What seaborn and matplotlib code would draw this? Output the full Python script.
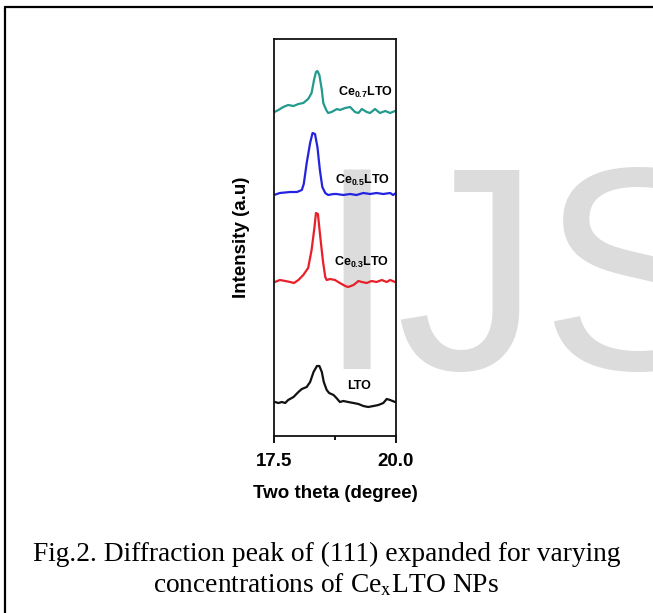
import matplotlib
matplotlib.use("Agg")
import matplotlib.pyplot as plt
from matplotlib.lines import Line2D
import seaborn as sns
import pandas as pd

# ---------------- data ----------------
theta_ce07 = [17.51, 17.59, 17.69, 17.79, 17.90, 18.00, 18.10, 18.20, 18.27, 18.32, 18.36, 18.39,
              18.43, 18.48, 18.51, 18.57, 18.61, 18.68, 18.79, 18.85, 18.96, 19.06, 19.16, 19.23,
              19.30, 19.40, 19.47, 19.57, 19.67, 19.78, 19.88, 19.98]
int_ce07 = [0, 2, 5, 7, 6, 8, 9, 13, 19, 32, 40, 41, 37, 22, 9, 2, -1, 0, 3, 2, 4, 5, 0, -1,
            3, 0, -1, 3, -1, 1, -1, 1]

theta_ce05 = [17.50, 17.62, 17.83, 17.97, 18.07, 18.11, 18.17, 18.24, 18.29, 18.34, 18.39, 18.44,
              18.49, 18.55, 18.61, 18.72, 18.78, 18.92, 19.06, 19.19, 19.33, 19.47, 19.60, 19.74,
              19.88, 19.94, 20.00]
int_ce05 = [-1, 1, 2, 2, 4, 10, 31, 51, 61, 60, 47, 24, 7, 1, -1, 0, 0, -1, 0, -1, 1, 0, 1, 0,
            1, -1, 1]

theta_ce03 = [17.52, 17.62, 17.73, 17.83, 17.91, 18.00, 18.10, 18.20, 18.27, 18.33, 18.36, 18.40,
              18.44, 18.50, 18.55, 18.58, 18.65, 18.75, 18.85, 18.96, 19.02, 19.13, 19.23, 19.30,
              19.40, 19.50, 19.60, 19.71, 19.81, 19.88, 19.98]
int_ce03 = [-1, 1, 0, -1, -2, 1, 6, 13, 31, 54, 68, 67, 48, 21, 4, 1, 2, 1, -2, -5, -6, -4, 0, -1,
            -2, 0, -1, 1, -1, 1, -1]

theta_lto = [17.52, 17.59, 17.66, 17.73, 17.79, 17.90, 18.00, 18.07, 18.17, 18.24, 18.31, 18.38,
             18.43, 18.48, 18.52, 18.58, 18.63, 18.72, 18.78, 18.85, 18.92, 19.02, 19.13, 19.23,
             19.33, 19.43, 19.54, 19.64, 19.74, 19.81, 19.88, 19.98]
int_lto = [0, -1, 0, -1, 2, 5, 10, 13, 15, 20, 30, 36, 36, 30, 20, 12, 9, 7, 4, 0, 1, 0, -1, -2,
           -4, -5, -4, -3, -1, 3, 2, 0]

series_names = ["LTO", "Ce0.3LTO", "Ce0.5LTO", "Ce0.7LTO"]
series_theta = [theta_lto, theta_ce03, theta_ce05, theta_ce07]
series_int = [int_lto, int_ce03, int_ce05, int_ce07]
series_offset = [34, 155, 242, 324]          # vertical stacking offsets (a.u.)
series_colors = ["#111111", "#e8202a", "#2323e0", "#239a8e"]
series_labels = ["LTO", r"Ce$_{\mathbf{0.3}}$LTO", r"Ce$_{\mathbf{0.5}}$LTO", r"Ce$_{\mathbf{0.7}}$LTO"]
label_pos = [(18.99, 50), (18.72, 174), (18.76, 256), (18.82, 344)]

xticks = [17.5, 20.0]
xtick_labels = ["17.5", "20.0"]
xlabel = "Two theta (degree)"
ylabel = "Intensity (a.u)"
caption1 = "Fig.2. Diffraction peak of (111) expanded for varying"
caption2 = r"concentrations of Ce$_\mathrm{x}$LTO NPs"

# ---------------- build table ----------------
rows = []
for name, th, it, off in zip(series_names, series_theta, series_int, series_offset):
    for t, v in zip(th, it):
        rows.append({"theta": t, "intensity": v + off, "sample": name})
df = pd.DataFrame(rows)

# ---------------- style ----------------
sns.set_style("ticks")
plt.rcParams["font.family"] = ["Liberation Sans", "DejaVu Sans"]
plt.rcParams["mathtext.fontset"] = "custom"
plt.rcParams["mathtext.bf"] = "Liberation Sans:bold"
plt.rcParams["mathtext.rm"] = "Liberation Sans:bold"
plt.rcParams["text.color"] = "black"
plt.rcParams["axes.labelcolor"] = "black"
plt.rcParams["xtick.color"] = "black"
plt.rcParams["xtick.labelcolor"] = "black"

W, H = 653, 613
fig = plt.figure(figsize=(W / 100, H / 100), dpi=100)
fig.patch.set_facecolor("white")

ax = fig.add_axes([274 / W, 1 - 436 / H, 122 / W, 397 / H])
ax.set_facecolor("none")

# watermark behind the axes
fig.text(316 / W, 1 - 369 / H, "IJS", fontsize=208, color="#dcdcdc",
         family="Liberation Sans", ha="left", va="baseline", zorder=-5)

sns.lineplot(data=df, x="theta", y="intensity", hue="sample", hue_order=series_names,
             palette=series_colors, sort=False, estimator=None, legend=False,
             linewidth=1.6, ax=ax)

for lab, (lx, ly) in zip(series_labels, label_pos):
    ax.text(lx, ly, lab, fontsize=9, fontweight="bold", ha="left", va="center", color="black")

ax.set_xlim(17.5, 20.0)
ax.set_ylim(0, 397)
ax.set_xticks(xticks)
ax.set_xticklabels(xtick_labels, fontsize=13.5, fontweight="bold")
ax.set_xticks([18.75], minor=True)
ax.set_yticks([])
ax.tick_params(axis="x", which="major", direction="out", length=5, width=1.3, pad=7)
ax.tick_params(axis="x", which="minor", direction="out", length=3, width=1.3)
for sp in ax.spines.values():
    sp.set_visible(True)
    sp.set_linewidth(1.3)
    sp.set_color("#111111")
ax.set_xlabel(xlabel, fontsize=13.5, fontweight="bold", labelpad=11)
ax.set_ylabel(ylabel, fontsize=13.5, fontweight="bold", labelpad=17)

# caption
fig.text(0.5, 1 - 554 / H, caption1, fontsize=19.8, family="Liberation Serif",
         ha="center", va="center")
fig.text(0.5, 1 - 585 / H, caption2, fontsize=19.8, family="Liberation Serif",
         ha="center", va="center", math_fontfamily="stix")

# outer frame lines (top and left)
fig.add_artist(Line2D([5 / W, 1.0], [1 - 7 / H, 1 - 7 / H], transform=fig.transFigure,
                      color="black", linewidth=1.6))
fig.add_artist(Line2D([5 / W, 5 / W], [0, 1 - 7 / H], transform=fig.transFigure,
                      color="black", linewidth=1.6))

fig.savefig("out.png", dpi=100)
